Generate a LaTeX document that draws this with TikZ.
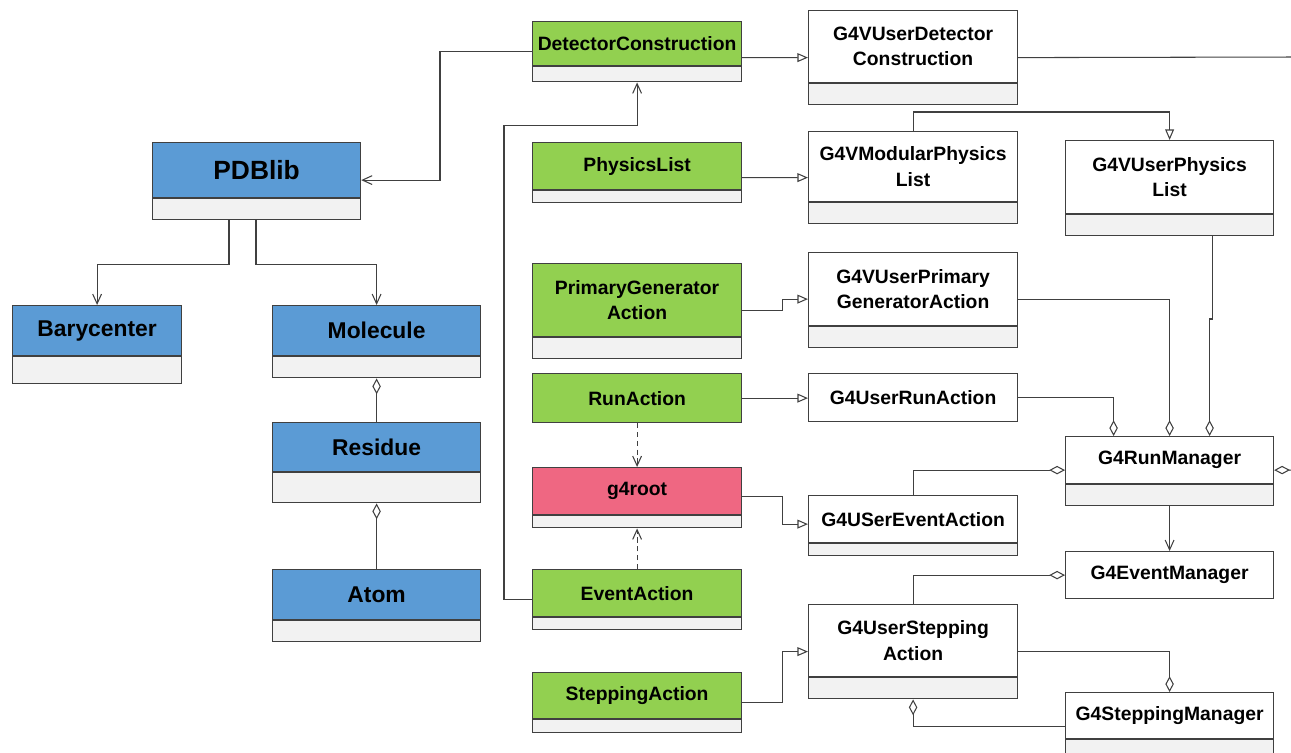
\documentclass[tikz,border=0pt]{standalone}
\usepackage{fontspec}
\setsansfont{Liberation Sans}
\usepackage{tikz}
\usetikzlibrary{calc, positioning, arrows.meta}

\definecolor{pdbblue}{HTML}{5B9BD5}
\definecolor{usergreen}{HTML}{92D050}
\definecolor{rootpink}{HTML}{EF6782}
\definecolor{compgray}{HTML}{F2F2F2}
\definecolor{linegray}{HTML}{404040}

\begin{document}
\begin{tikzpicture}[x=0.02cm,y=-0.02cm,
                    cls/.style={draw=linegray,line width=0.7pt,fill=white,inner sep=0pt,align=center,
                      anchor=north west,minimum width=4.18cm,
                      font=\sffamily\bfseries\fontsize{11}{14.5}\selectfont},
                    pdb node/.style={cls,fill=pdbblue,minimum width=4.16cm,
                      font=\sffamily\bfseries\fontsize{13}{15}\selectfont},
                    user node/.style={cls,fill=usergreen},
                    comp/.style={draw=linegray,line width=0.7pt,fill=compgray,inner sep=0pt,
                      anchor=north,minimum width=4.18cm},
                    conn/.style={draw=linegray,line width=0.6pt},
                    gen/.style={conn,-{Triangle[open,length=6pt,width=5pt]}},
                    assoc/.style={conn,-{Straight Barb[length=5.5pt,width=5pt]}},
                    aggr/.style={conn,{Diamond[open,length=9pt,width=4.8pt]}-},
                    dep/.style={assoc,dashed,dash pattern=on 3pt off 2pt}]

  \useasboundingbox (0,0) rectangle (1291,753);
  \clip (0,0) rectangle (1291,753);

  % PDBlib classes
  \node[pdb node,minimum height=1.1cm,font=\sffamily\bfseries\fontsize{15}{17}\selectfont] (pdb) at (152,142) {PDBlib};
  \node[comp,minimum width=4.16cm,minimum height=0.42cm] (pdbc) at (pdb.south) {};
  \node[pdb node,minimum width=3.38cm,minimum height=1.0cm] (bary) at (12,305) {Barycenter};
  \node[comp,minimum width=3.38cm,minimum height=0.54cm] (baryc) at (bary.south) {};
  \node[pdb node,minimum height=1.0cm] (mol) at (272,305) {Molecule};
  \node[comp,minimum width=4.16cm,minimum height=0.42cm] (molc) at (mol.south) {};
  \node[pdb node,minimum height=0.98cm] (res) at (272,422) {Residue};
  \node[comp,minimum width=4.16cm,minimum height=0.6cm] (resc) at (res.south) {};
  \node[pdb node,minimum height=1.0cm] (atom) at (272,569) {Atom};
  \node[comp,minimum width=4.16cm,minimum height=0.42cm] (atomc) at (atom.south) {};

  % user classes
  \node[user node,minimum height=0.88cm] (dc) at (532,21) {DetectorConstruction};
  \node[comp,minimum height=0.3cm] (dcc) at (dc.south) {};
  \node[user node,minimum height=0.94cm] (phys) at (532,142) {PhysicsList};
  \node[comp,minimum height=0.24cm] (physc) at (phys.south) {};
  \node[user node,minimum height=1.46cm] (pga) at (532,263) {PrimaryGenerator\\Action};
  \node[comp,minimum height=0.42cm] (pgac) at (pga.south) {};
  \node[user node,minimum height=0.98cm] (ra) at (532,373) {RunAction};
  \node[user node,fill=rootpink,minimum height=0.94cm] (root) at (532,467) {g4root};
  \node[comp,minimum height=0.24cm] (rootc) at (root.south) {};
  \node[user node,minimum height=0.94cm] (evt) at (532,569) {EventAction};
  \node[comp,minimum height=0.24cm] (evtc) at (evt.south) {};
  \node[user node,minimum height=0.92cm] (sa) at (532,672) {SteppingAction};
  \node[comp,minimum height=0.26cm] (sac) at (sa.south) {};

  % Geant4 classes
  \node[cls,minimum height=1.44cm] (vudc) at (808,10) {G4VUserDetector\\Construction};
  \node[comp,minimum height=0.42cm] (vudcc) at (vudc.south) {};
  \node[cls,minimum height=1.4cm] (vmpl) at (808,131) {G4VModularPhysics\\List};
  \node[comp,minimum height=0.42cm] (vmplc) at (vmpl.south) {};
  \node[cls,minimum width=4.16cm,minimum height=1.46cm] (vupl) at (1065,140) {G4VUserPhysics\\List};
  \node[comp,minimum width=4.16cm,minimum height=0.42cm] (vuplc) at (vupl.south) {};
  \node[cls,minimum height=1.46cm] (vupga) at (808,252) {G4VUserPrimary\\GeneratorAction};
  \node[comp,minimum height=0.42cm] (vupgac) at (vupga.south) {};
  \node[cls,minimum height=0.96cm] (ura) at (808,373) {G4UserRunAction};
  \node[cls,minimum height=0.94cm] (usea) at (808,495) {G4USerEventAction};
  \node[comp,minimum height=0.24cm] (useac) at (usea.south) {};
  \node[cls,minimum height=1.44cm] (usa) at (808,604) {G4UserStepping\\Action};
  \node[comp,minimum height=0.42cm] (usac) at (usa.south) {};
  \node[cls,minimum width=4.16cm,minimum height=0.94cm] (rm) at (1065,436) {G4RunManager};
  \node[comp,minimum width=4.16cm,minimum height=0.42cm] (rmc) at (rm.south) {};
  \node[cls,minimum width=4.16cm,minimum height=0.94cm] (em) at (1065,551) {G4EventManager};
  \node[cls,minimum width=4.16cm,minimum height=0.92cm] (sm) at (1065,692) {G4SteppingManager};
  \node[comp,minimum width=4.16cm,minimum height=0.44cm] (smc) at (sm.south) {};

  \coordinate (offvudc) at (1300,57);
  \coordinate (offrm) at (1300,470);

  % PDBlib relations
  \draw[assoc] ($(pdbc.south west)+(77,0)$) -- ++(0,44) -| (bary.north);
  \draw[assoc] ($(pdbc.south west)+(104,0)$) -- ++(0,44) -| (mol.north);
  \draw[aggr] (molc.south) -- (res.north);
  \draw[aggr] (resc.south) -- (atom.north);
  \draw[assoc] ($(dc.west)+(0,8)$) -- ++(-92,0) |- ($(pdb.east)+(0,10)$);
  \draw[assoc] ($(evt.west)+(0,6)$) -- ++(-28,0) |- ($(dcc.south)+(0,43)$) -- (dcc.south);

  % inheritance
  \draw[gen] ($(dc.east)+(0,14)$) -- ($(vudc.west)+(0,11)$);
  \draw[conn] ($(vudc.east)+(0,11)$) -- (offvudc);
  \draw[gen] ($(phys.east)+(0,11.5)$) -- ($(vmpl.west)+(0,11)$);
  \draw[gen] (vmpl.north) -- ++(0,-19) -| (vupl.north);
  \draw[gen] ($(pga.east)+(0,10)$) -- ++(40,0) |- ($(vupga.west)+(0,10)$);
  \draw[gen] (ra.east) -- (ura.west |- ra.east);
  \draw[gen] ($(root.east)+(0,5)$) -- ++(40,0) |- ($(usea.west)+(0,5)$);
  \draw[gen] ($(sa.east)+(0,7)$) -- ++(40,0) |- ($(usa.west)+(0,11)$);

  % g4root
  \draw[dep] (ra.south) -- (root.north);
  \draw[dep] (evt.north) -- (rootc.south);

  % managers
  \draw[aggr] ($(rm.north)+(40,0)$) |- ++(3,-117) -- ($(vuplc.south)+(43,0)$);
  \draw[aggr] (rm.north) |- ($(vupga.east)+(0,10)$);
  \draw[aggr] ($(rm.north)+(-56,0)$) |- (ura.east);
  \draw[aggr] ($(rm.west)+(0,10)$) -| (usea.north);
  \draw[aggr] ($(rm.east)+(0,10)$) -- (offrm);
  \draw[assoc] (rmc.south) -- (em.north);
  \draw[aggr] (em.west) -| (usa.north);
  \draw[aggr] (sm.north) |- ($(usa.east)+(0,11)$);
  \draw[aggr] (usac.south) |- ($(sm.west)+(0,11)$);

\end{tikzpicture}
\end{document}
